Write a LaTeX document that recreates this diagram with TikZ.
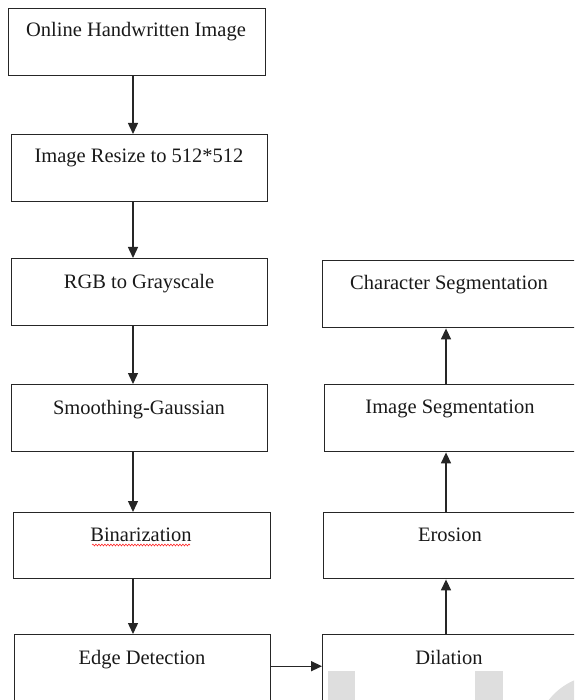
\documentclass[tikz,border=0pt]{standalone}
\usepackage{fontspec}
\setmainfont{Liberation Serif}
\usetikzlibrary{arrows.meta,decorations.pathmorphing}
\begin{document}
\begin{tikzpicture}[x=1pt,y=-1pt,
  box/.style={draw=black!85,line width=1.4pt,rectangle,inner sep=0pt,anchor=north west},
  txt/.style={anchor=base,inner sep=0pt,font=\fontsize{20.5}{24}\selectfont,text=black!90},
  arr/.style={draw=black!85,line width=1.4pt,-{Triangle[length=11pt,width=10pt]}},
  wm/.style={fill=black!13,draw=none}]
\useasboundingbox (0,0) rectangle (574,700);
\clip (0,0) rectangle (574,700);
% watermark
\fill[wm] (328,671) rectangle (355,701);
\fill[wm] (475,671) rectangle (503,701);
\fill[wm] (600,740) circle (65);
% left column
\node[box,minimum width=257,minimum height=67] (b1) at (8,8) {};
\node[box,minimum width=256,minimum height=67] (b2) at (11,134) {};
\node[box,minimum width=256,minimum height=67] (b3) at (11,258) {};
\node[box,minimum width=256,minimum height=67] (b4) at (11,384) {};
\node[box,minimum width=257,minimum height=66] (b5) at (13,512) {};
\node[box,minimum width=256,minimum height=67] (b6) at (14,634) {};
% right column
\node[box,minimum width=255,minimum height=67] (r1) at (322,260) {};
\node[box,minimum width=253,minimum height=67] (r2) at (324,384) {};
\node[box,minimum width=254,minimum height=66] (r3) at (323,512) {};
\node[box,minimum width=255,minimum height=67] (r4) at (322,634) {};
% texts
\node[txt] (t1) at (136,37) {Online Handwritten Image};
\node[txt] (t2) at (139,163) {Image Resize to 512*512};
\node[txt] (t3) at (139,288) {RGB to Grayscale};
\node[txt] (t4) at (139,414) {Smoothing-Gaussian};
\node[txt] (t5) at (141,541) {Binarization};
\node[txt] (t6) at (142,664) {Edge Detection};
\node[txt] (u1) at (449,289) {Character Segmentation};
\node[txt] (u2) at (450,413) {Image Segmentation};
\node[txt] (u3) at (450,541) {Erosion};
\node[txt] (u4) at (449,664) {Dilation};
% spell-check underline
\coordinate (s1) at (92,545);
\coordinate (s2) at (190,545);
\draw[red!85,line width=0.6pt,decorate,decoration={snake,amplitude=0.9pt,segment length=3pt}] (s1) -- (s2);
% arrows
\coordinate (ax) at (133,0);
\coordinate (bx) at (446,0);
\draw[arr] (b1.south -| ax) -- (b2.north -| ax);
\draw[arr] (b2.south -| ax) -- (b3.north -| ax);
\draw[arr] (b3.south -| ax) -- (b4.north -| ax);
\draw[arr] (b4.south -| ax) -- (b5.north -| ax);
\draw[arr] (b5.south -| ax) -- (b6.north -| ax);
\draw[arr] ([yshift=2]b6.east) -- ([yshift=2]b6.east -| r4.west);
\draw[arr] (r4.north -| bx) -- (r3.south -| bx);
\draw[arr] (r3.north -| bx) -- (r2.south -| bx);
\draw[arr] (r2.north -| bx) -- (r1.south -| bx);
\end{tikzpicture}
\end{document}
